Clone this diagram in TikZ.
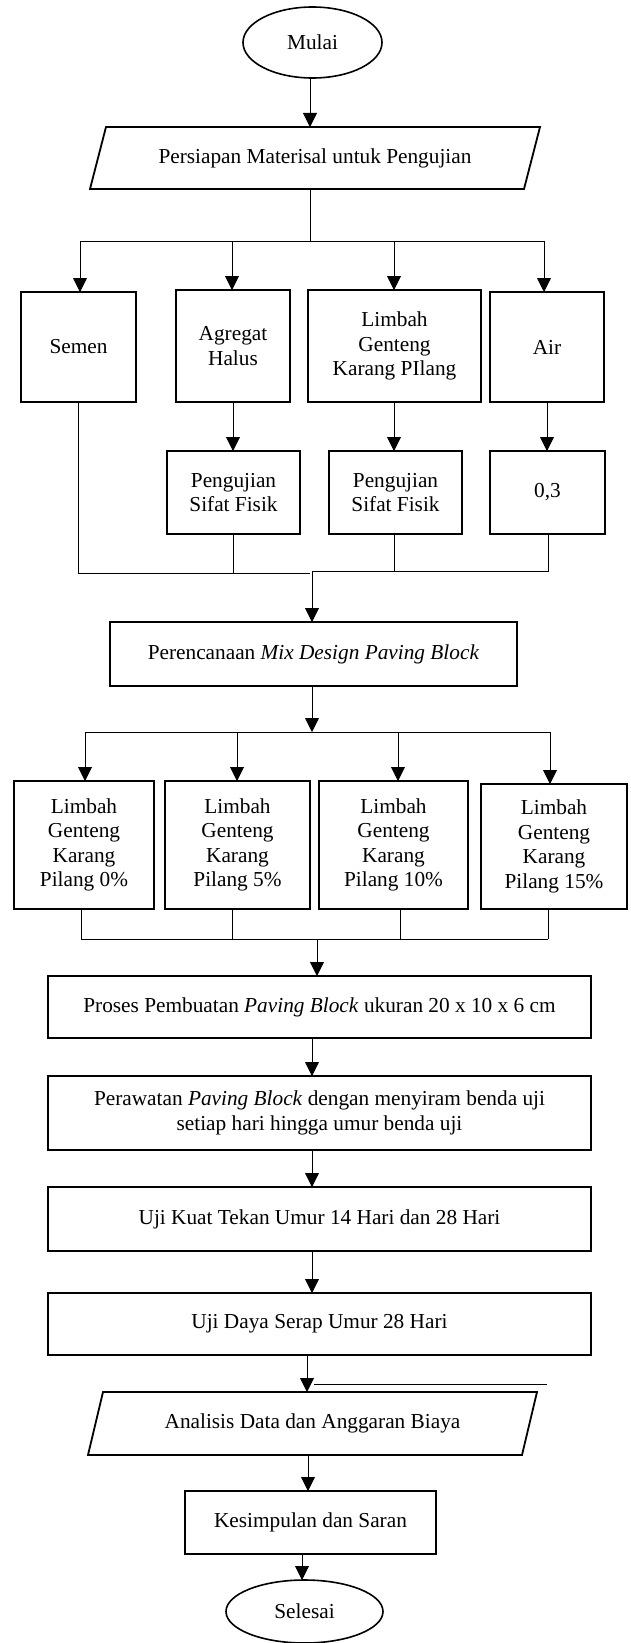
\documentclass[tikz,border=0pt]{standalone}
\usepackage{fontspec}
\setmainfont{Liberation Serif}
\usetikzlibrary{shapes.geometric,arrows.meta,calc}
\begin{document}
\begin{tikzpicture}[x=1pt,y=-1pt,
  every node/.style={font=\fontsize{21.3}{24.5}\selectfont, align=center, inner sep=0pt, outer sep=0pt},
  boxnode/.style={draw, rectangle, line width=1.8pt},
  plainnode/.style={rectangle},
  termnode/.style={draw, ellipse, line width=1.6pt},
  outline/.style={line width=1.8pt, line join=miter},
  conn/.style={line width=0.9pt, black},
  arr/.style={conn, -{Triangle[width=14pt,length=14pt]}}
]
\useasboundingbox (0,0) rectangle (630,1643);

% ---------- nodes ----------
\node[termnode, minimum width=139pt, minimum height=71pt] (mulai) at (312.5,42.5) {Mulai};

\node[plainnode, minimum width=450pt, minimum height=62pt] (persiapan) at (315,158) {Persiapan Materisal untuk Pengujian};
\draw[outline] ($(persiapan.north west)+(16,0)$) -- (persiapan.north east) -- ($(persiapan.south east)+(-16,0)$) -- (persiapan.south west) -- cycle;

\node[boxnode, minimum width=115pt, minimum height=110pt] (semen) at (78.5,347) {Semen};
\node[boxnode, minimum width=114pt, minimum height=112pt] (agregat) at (233,346) {Agregat\\Halus};
\node[boxnode, minimum width=173pt, minimum height=112pt] (limbah) at (394.5,346) {Limbah\\Genteng\\Karang PIlang};
\node[boxnode, minimum width=114pt, minimum height=110pt] (air) at (547,347) {Air};

\node[boxnode, minimum width=133pt, minimum height=83pt] (peng1) at (233.5,492.5) {Pengujian\\Sifat Fisik};
\node[boxnode, minimum width=133pt, minimum height=83pt] (peng2) at (395.5,492.5) {Pengujian\\Sifat Fisik};
\node[boxnode, minimum width=115pt, minimum height=83pt] (air03) at (547.5,492.5) {0,3};

\node[boxnode, minimum width=407pt, minimum height=64pt] (perenc) at (313.5,654) {Perencanaan \textit{Mix Design Paving Block}};

\node[boxnode, minimum width=140pt, minimum height=128pt] (p0) at (84,845) {Limbah\\Genteng\\Karang\\Pilang 0\%};
\node[boxnode, minimum width=145pt, minimum height=128pt] (p5) at (237.5,845) {Limbah\\Genteng\\Karang\\Pilang 5\%};
\node[boxnode, minimum width=149pt, minimum height=128pt] (p10) at (393.5,845) {Limbah\\Genteng\\Karang\\Pilang 10\%};
\node[boxnode, minimum width=146pt, minimum height=125pt] (p15) at (554,846.5) {Limbah\\Genteng\\Karang\\Pilang 15\%};

\node[boxnode, minimum width=543pt, minimum height=62pt] (proses) at (319.5,1007) {Proses Pembuatan \textit{Paving Block} ukuran 20 x 10 x 6 cm};
\node[boxnode, minimum width=543pt, minimum height=74pt] (perawatan) at (319.5,1113) {Perawatan \textit{Paving Block} dengan menyiram benda uji\\setiap hari hingga umur benda uji};
\node[boxnode, minimum width=543pt, minimum height=64pt] (ujikuat) at (319.5,1219) {Uji Kuat Tekan Umur 14 Hari dan 28 Hari};
\node[boxnode, minimum width=543pt, minimum height=62pt] (ujidaya) at (319.5,1324) {Uji Daya Serap Umur 28 Hari};

\node[plainnode, minimum width=449pt, minimum height=63pt] (analisis) at (312.5,1423.5) {Analisis Data dan Anggaran Biaya};
\draw[outline] ($(analisis.north west)+(15,0)$) -- (analisis.north east) -- ($(analisis.south east)+(-15,0)$) -- (analisis.south west) -- cycle;

\node[boxnode, minimum width=251pt, minimum height=63pt] (kesimpulan) at (310.5,1522.5) {Kesimpulan dan Saran};
\node[termnode, minimum width=157pt, minimum height=63pt] (selesai) at (304.5,1611.5) {Selesai};

% ---------- helper coordinates ----------
\coordinate (j1) at (310,241);
\coordinate (b1) at (80,241);
\coordinate (b2) at (232,241);
\coordinate (b3) at (394,241);
\coordinate (b4) at (544,241);

\coordinate (m1) at (78,573);
\coordinate (m2) at (233,573);
\coordinate (mj) at (310,573);
\coordinate (mj2) at (312,571);
\coordinate (m3) at (394,571);
\coordinate (m4) at (548,571);

\coordinate (d1) at (85,732);
\coordinate (d2) at (237,732);
\coordinate (d3) at (398,732);
\coordinate (d4) at (550,732);

\coordinate (e1) at (81,939);
\coordinate (e2) at (232,939);
\coordinate (e3) at (400,939);
\coordinate (e4) at (548,939);
\coordinate (ej) at (317,939);

\coordinate (k1) at (312,0);
\coordinate (k2) at (307,0);
\coordinate (k3) at (308,0);
\coordinate (k4) at (302,0);

\coordinate (s1) at (314,1384);
\coordinate (s2) at (547,1384);

% ---------- connectors ----------
\draw[arr] (j1 |- mulai.south) -- (j1 |- persiapan.north);
\draw[conn] (j1 |- persiapan.south) -- (j1);
\draw[conn] (b1) -- (b4);
\draw[arr] (b1) -- (b1 |- semen.north);
\draw[arr] (b2) -- (b2 |- agregat.north);
\draw[arr] (b3) -- (b3 |- limbah.north);
\draw[arr] (b4) -- (b4 |- air.north);

\draw[arr] (agregat.south) -- (agregat.south |- peng1.north);
\draw[arr] (b3 |- limbah.south) -- (b3 |- peng2.north);
\draw[arr] (air.south) -- (air.south |- air03.north);

\draw[conn] (m1 |- semen.south) -- (m1) -- (mj);
\draw[conn] (m2 |- peng1.south) -- (m2);
\draw[conn] (m3 |- peng2.south) -- (m3);
\draw[conn] (m4 |- air03.south) -- (m4) -- (mj2);
\draw[arr] (mj2) -- (mj2 |- perenc.north);

\draw[arr] (mj2 |- perenc.south) -- (mj2 |- d1);
\draw[conn] (d1) -- (d4);
\draw[arr] (d1) -- (d1 |- p0.north);
\draw[arr] (d2) -- (d2 |- p5.north);
\draw[arr] (d3) -- (d3 |- p10.north);
\draw[arr] (d4) -- (d4 |- p15.north);

\draw[conn] (e1 |- p0.south) -- (e1);
\draw[conn] (e2 |- p5.south) -- (e2);
\draw[conn] (e3 |- p10.south) -- (e3);
\draw[conn] (e4 |- p15.south) -- (e4);
\draw[conn] (e1) -- (e4);
\draw[arr] (ej) -- (ej |- proses.north);

\draw[arr] (k1 |- proses.south) -- (k1 |- perawatan.north);
\draw[arr] (k1 |- perawatan.south) -- (k1 |- ujikuat.north);
\draw[arr] (k1 |- ujikuat.south) -- (k1 |- ujidaya.north);
\draw[arr] (k2 |- ujidaya.south) -- (k2 |- analisis.north);
\draw[conn] (s1) -- (s2);
\draw[arr] (k3 |- analisis.south) -- (k3 |- kesimpulan.north);
\draw[arr] (k4 |- kesimpulan.south) -- (k4 |- selesai.north);
\end{tikzpicture}
\end{document}
